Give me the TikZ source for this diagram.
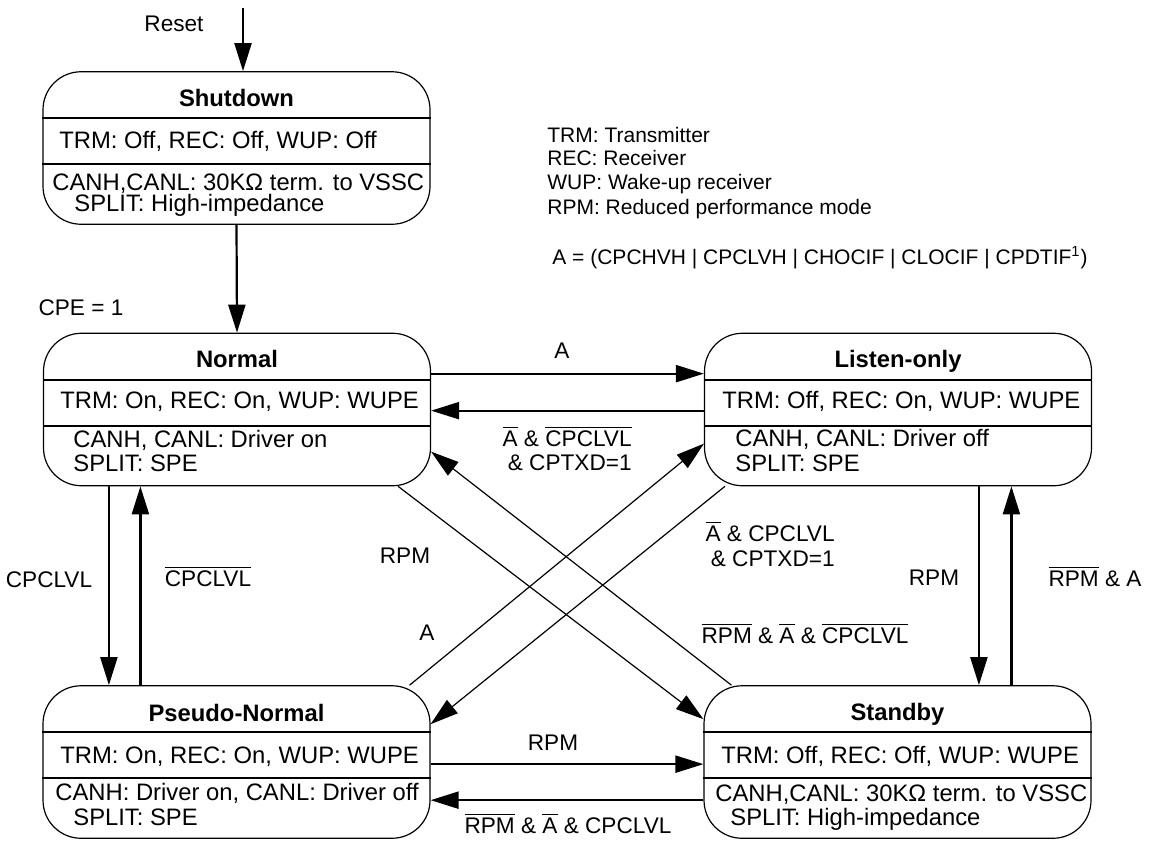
\documentclass[tikz,border=0pt]{standalone}
\usepackage{fontspec}
\setmainfont{Liberation Sans}
\usepackage{tikz}
\usetikzlibrary{arrows.meta}
\usetikzlibrary{positioning}

\newcommand{\ovl}[1]{$\overline{\mbox{#1}}$}

\begin{document}
\begin{tikzpicture}[x=0.5pt, y=-0.5pt, >={Triangle[length=14pt,width=8.5pt]},
  state/.style={draw, rounded corners=19pt, line width=0.6pt, minimum width=193.5pt, minimum height=76.25pt, inner sep=0pt},
  sepline/.style={line width=1.1pt},
  title/.style={font=\fontsize{11.9}{14}\selectfont\bfseries, inner sep=0pt, anchor=base},
  info/.style={font=\fontsize{11.9}{14}\selectfont, inner sep=0pt, anchor=base west},
  lbl/.style={font=\fontsize{11.3}{13.5}\selectfont, inner sep=0pt, anchor=base},
  trans/.style={->, line width=1.1pt},
  diag/.style={->, line width=0.6pt},
  legend/.style={font=\fontsize{10.5}{12}\selectfont, inner sep=0pt, anchor=base west}]
  \useasboundingbox (0,0) rectangle (1159,846);

  % ===== States =====
  \node[state] (shutdown) at (236.5,148) {};
  \node[state] (normal)   at (237,409.5) {};
  \node[state] (listen)   at (898,409.5) {};
  \node[state] (pseudo)   at (236.5,762) {};
  \node[state] (standby)  at (897.5,762) {};

  % separators
  \foreach \s in {shutdown,normal,listen,pseudo,standby} {
    \draw[sepline] ([yshift=-23.5pt]\s.north west) -- ([yshift=-23.5pt]\s.north east);
    \draw[sepline] ([yshift=-46.5pt]\s.north west) -- ([yshift=-46.5pt]\s.north east);
  }

  % Shutdown
  \node[title] (shutdown-t) at (236.5,106) {Shutdown};
  \node[info] (shutdown-a) at (59,148.5) {TRM: Off, REC: Off, WUP: Off};
  \node[info] (shutdown-b) at (52,190.5) {CANH,CANL: 30KΩ term. to VSSC};
  \node[info] (shutdown-c) at (74,211.5) {SPLIT: High-impedance};

  % Normal
  \node[title] (normal-t) at (237,367) {Normal};
  \node[info] (normal-a) at (60,408.5) {TRM: On, REC: On, WUP: WUPE};
  \node[info] (normal-b) at (73,447.5) {CANH, CANL: Driver on};
  \node[info] (normal-c) at (73,471.5) {SPLIT: SPE};

  % Listen-only
  \node[title] (listen-t) at (898,367) {Listen-only};
  \node[info] (listen-a) at (722,408.5) {TRM: Off, REC: On, WUP: WUPE};
  \node[info] (listen-b) at (735,446.5) {CANH, CANL: Driver off};
  \node[info] (listen-c) at (735,471.5) {SPLIT: SPE};

  % Pseudo-Normal
  \node[title] (pseudo-t) at (236.5,721.5) {Pseudo-Normal};
  \node[info] (pseudo-a) at (60,763.5) {TRM: On, REC: On, WUP: WUPE};
  \node[info] (pseudo-b) at (55,800.5) {CANH: Driver on, CANL: Driver off};
  \node[info] (pseudo-c) at (73,825.5) {SPLIT: SPE};

  % Standby
  \node[title] (standby-t) at (897.5,720.5) {Standby};
  \node[info] (standby-a) at (721,763.5) {TRM: Off, REC: Off, WUP: WUPE};
  \node[info] (standby-b) at (715,801.5) {CANH,CANL: 30KΩ term. to VSSC};
  \node[info] (standby-c) at (730,825.5) {SPLIT: High-impedance};

  % ===== Legend =====
  \node[legend] (leg-trm) at (547,142.5) {TRM: Transmitter};
  \node[legend] (leg-rec) at (547,165.5) {REC: Receiver};
  \node[legend] (leg-wup) at (547,189.5) {WUP: Wake-up receiver};
  \node[legend] (leg-rpm) at (547,214.5) {RPM: Reduced performance mode};
  \node[legend] (leg-a)   at (552,264.5) {A = (CPCHVH | CPCLVH | CHOCIF | CLOCIF | CPDTIF\textsuperscript{1})};

  % ===== Transitions =====
  \coordinate (reset) at (243,8);
  \draw[trans] (reset) -- (reset |- shutdown.north);
  \node[lbl] (reset-l) at (174,32) {Reset};

  \draw[trans] (shutdown.south) -- (normal.north);
  \node[lbl] (cpe-l) at (81,315) {CPE = 1};

  % Normal <-> Listen-only
  \draw[trans] ([yshift=-20.5pt]normal.north east) -- ([yshift=-20.5pt]listen.north west);
  \node[lbl] (nl-l) at (562,358) {A};
  \draw[trans] ([yshift=-39pt]listen.north west) -- ([yshift=-39pt]normal.north east);
  \node[lbl, anchor=base east] (ln-l1) at (632,446) {\ovl{A} \& \ovl{CPCLVL}};
  \node[lbl, anchor=base east] (ln-l2) at (632,470) {\& CPTXD=1};

  % Normal <-> Pseudo-Normal
  \draw[trans] ([xshift=33pt]normal.south west) -- ([xshift=33pt]normal.south west |- pseudo.north);
  \node[lbl] (np-l) at (49,587) {CPCLVL};
  \draw[trans] ([xshift=49pt]pseudo.north west) -- ([xshift=49pt]pseudo.north west |- normal.south);
  \node[lbl] (pn-l) at (208,586) {\ovl{CPCLVL}};

  % crossing diagonals
  \draw[diag] ([xshift=-16.5pt]normal.south east) -- ([yshift=-17pt]standby.north west);
  \node[lbl] (ns-l) at (405,563) {RPM};
  \draw[diag] ([xshift=14pt]standby.north west) -- ([yshift=-59.5pt]normal.north east);
  \node[lbl] (sn-l) at (805,643) {\ovl{RPM} \& \ovl{A} \& \ovl{CPCLVL}};
  \draw[diag] ([xshift=-10.5pt]pseudo.north east) -- ([yshift=-55.5pt]listen.north west);
  \node[lbl] (pl-l) at (427,640) {A};
  \draw[diag] ([xshift=10.5pt]listen.south west) -- ([yshift=-19.5pt]pseudo.north east);
  \node[lbl, anchor=base east] (lp-l1) at (835,541) {\ovl{A} \& CPCLVL};
  \node[lbl, anchor=base east] (lp-l2) at (835,566) {\& CPTXD=1};

  % Listen-only <-> Standby
  \draw[trans] ([xshift=137.5pt]listen.south west) -- ([xshift=137.5pt]listen.south west |- standby.north);
  \node[lbl] (ls-l) at (934,585) {RPM};
  \draw[trans] ([xshift=154pt]standby.north west) -- ([xshift=154pt]standby.north west |- listen.south);
  \node[lbl] (sl-l) at (1095,586) {\ovl{RPM} \& A};

  % Pseudo-Normal <-> Standby
  \draw[trans] ([yshift=-39.5pt]pseudo.north east) -- ([yshift=-39.5pt]standby.north west);
  \node[lbl] (ps-l) at (553,750) {RPM};
  \draw[trans] ([yshift=-57.5pt]standby.north west) -- ([yshift=-57.5pt]pseudo.north east);
  \node[lbl] (sp-l) at (568,833) {\ovl{RPM} \& \ovl{A} \& CPCLVL};
\end{tikzpicture}
\end{document}
